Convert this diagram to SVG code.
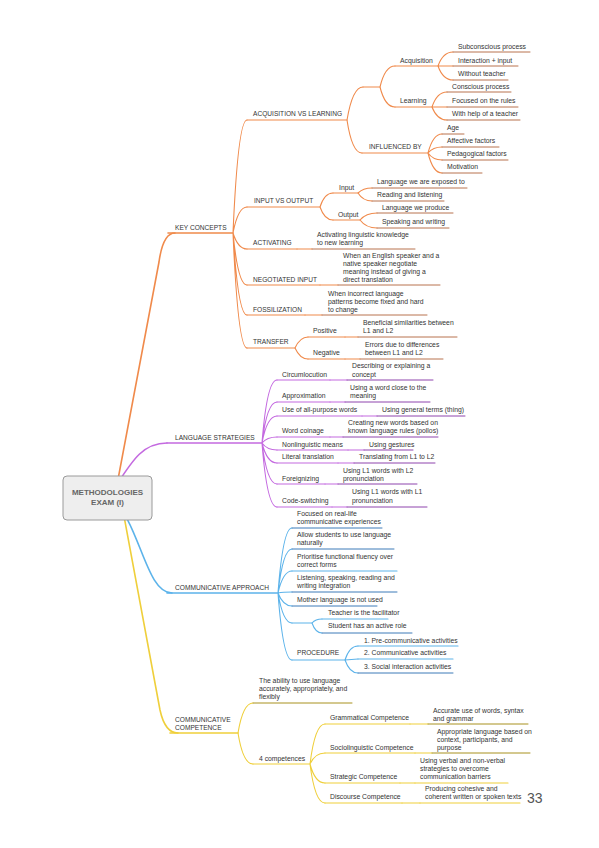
<svg xmlns="http://www.w3.org/2000/svg" width="599" height="848" viewBox="0 0 599 848">
<style>
text{font-family:"Liberation Sans",Arial,sans-serif;font-size:6.8px;fill:#333}
.u{font-size:6.6px}
path,line{fill:none;stroke-linecap:round}
.o{stroke:#f08a4b;stroke-width:1.1}
.od{stroke:#b8734e;stroke-width:1}
.p{stroke:#c46ae0;stroke-width:1.1}
.pd{stroke:#8e44ad;stroke-width:1}
.b{stroke:#5cb3ea;stroke-width:1.1}
.bd{stroke:#3d7bb8;stroke-width:1}
.y{stroke:#efcf3b;stroke-width:1.1}
.yd{stroke:#a8911e;stroke-width:1}
.t{stroke-width:1.6}
.root{fill:#eeeeee;stroke:#9a9a9a;stroke-width:1}
.rt{font-size:8px;font-weight:bold;fill:#666;text-anchor:middle}
.pg{font-size:14px;fill:#555}
</style>
<g id="connectors">
<path class="o t" d="M116,490 L159,262 Q163,233 175,233"/>
<path class="p t" d="M110,495 C130,465 140,443 167,443"/>
<path class="b t" d="M110,497 C140,520 145,593 172,593"/>
<path class="y t" d="M121,500 L160,710 Q165,733 178,733"/>
<path class="o" d="M233,233 Q238,120 247,120 M233,233 Q238,207 247,207 M233,233 Q238,249 247,249 M233,233 Q238,285 247,285 M233,233 Q238,315 247,315 M233,233 Q238,348 247,348"/>
<path class="o" d="M347,120 Q352.6,87 363,87 M347,120 Q352,153 362,153 M380,87 Q385,66 395,66 M380,87 Q385,107 395,107"/>
<path class="o" d="M438,66 Q443,52 453,52 M438,66 L453,66 M438,66 Q443,80 453,80 M432,107 Q437,92 447,92 M432,107 L447,107 M432,107 Q437,120 447,120"/>
<path class="o" d="M428,153 Q433,134 442,134 M428,153 Q433,147 442,147 M428,153 Q433,160 442,160 M428,153 Q433,173 442,173"/>
<path class="o" d="M320,207 Q324.5,193 333,193 M320,207 Q324.5,220 333,220 M358,193 Q363,188 372,188 M358,193 Q363,201 372,201 M360,220 Q366,213 377,213 M360,220 Q366,228 377,228"/>
<path class="o" d="M297,249 L312,249 M320,285 L338,285 M305,315 L322,315 M295,348 Q300,337 308,337 M295,348 Q300,359 308,359 M345,337 L358,337 M345,359 L360,359"/>
<path class="p" d="M262,443 Q267,380 277,380 M262,443 Q267,402 277,402 M262,443 Q267,416 277,416 M262,443 Q267,437 277,437 M262,443 Q267,450 277,450 M262,443 Q267,463 277,463 M262,443 Q267,484 277,484 M262,443 Q267,507 277,507"/>
<path class="p" d="M330,380 L347,380 M330,402 L345,402 M362,416 L377,416 M330,437 L343,437 M348,450 L364,450 M338,463 L354,463 M325,484 L338,484 M332,507 L347,507"/>
<path class="b" d="M278,593 Q283,528 292,528 M278,593 Q283,549 292,549 M278,593 Q283,571 292,571 M278,593 Q283,592 292,592 M278,593 Q283,606 292,606 M278,593 Q283,623 292,623 M278,593 Q283,660 292,660"/>
<path class="b" d="M312,623 Q315.5,619 322,619 M312,623 Q315.5,633 322,633 M345,660 Q349.5,646 358,646 M345,660 L358,659 M345,660 Q349.5,673 358,673"/>
<path class="y" d="M238,733 Q243,703 253,703 M238,733 Q243,764 253,764 M310,764 Q315,724 325,724 M310,764 Q315,753 325,753 M310,764 Q315,783 325,783 M310,764 Q315,803 325,803"/>
<path class="y" d="M410,724 L428,724 M415,753 L432,753 M400,783 L415,783 M402,803 L420,803"/>
</g>
<g id="root">
<rect class="root" x="63" y="476" width="89" height="44" rx="4"/>
<text class="rt" x="107.5" y="495">METHODOLOGIES</text>
<text class="rt" x="107.5" y="505">EXAM (I)</text>
</g>
<g id="key-concepts"><line class="o t" x1="168" y1="233" x2="233" y2="233"/><text class="u" x="175" y="230">KEY CONCEPTS</text></g>
<g id="acq-vs-learning"><line class="o" x1="247" y1="120" x2="347" y2="120"/><text class="u" x="253" y="116">ACQUISITION VS LEARNING</text></g>
<g id="acq-empty"><line class="o" x1="363" y1="87" x2="380" y2="87" stroke-width="1.8"/></g>
<g id="acquisition"><line class="o" x1="395" y1="66" x2="438" y2="66"/><text x="400" y="63">Acquisition</text></g>
<g id="acq-1"><line class="od" x1="453" y1="52" x2="530" y2="52"/><text x="458" y="49">Subconscious process</text></g>
<g id="acq-2"><line class="od" x1="453" y1="66" x2="518" y2="66"/><text x="458" y="63">Interaction + input</text></g>
<g id="acq-3"><line class="od" x1="453" y1="80" x2="508" y2="80"/><text x="458" y="76">Without teacher</text></g>
<g id="learning"><line class="o" x1="395" y1="107" x2="432" y2="107"/><text x="400" y="103">Learning</text></g>
<g id="learn-1"><line class="od" x1="447" y1="92" x2="511" y2="92"/><text x="452" y="89">Conscious process</text></g>
<g id="learn-2"><line class="od" x1="447" y1="107" x2="518" y2="107"/><text x="452" y="103">Focused on the rules</text></g>
<g id="learn-3"><line class="od" x1="447" y1="120" x2="520" y2="120"/><text x="452" y="116">With help of a teacher</text></g>
<g id="influenced"><line class="o" x1="362" y1="153" x2="428" y2="153"/><text class="u" x="369" y="149">INFLUENCED BY</text></g>
<g id="inf-1"><line class="od" x1="442" y1="134" x2="464" y2="134"/><text x="447" y="130">Age</text></g>
<g id="inf-2"><line class="od" x1="442" y1="147" x2="499" y2="147"/><text x="447" y="143">Affective factors</text></g>
<g id="inf-3"><line class="od" x1="442" y1="160" x2="508" y2="160"/><text x="447" y="156">Pedagogical factors</text></g>
<g id="inf-4"><line class="od" x1="442" y1="173" x2="482" y2="173"/><text x="447" y="169">Motivation</text></g>
<g id="input-output"><line class="o" x1="247" y1="207" x2="320" y2="207"/><text class="u" x="254" y="203">INPUT VS OUTPUT</text></g>
<g id="input"><line class="o" x1="333" y1="193" x2="358" y2="193"/><text x="339" y="190">Input</text></g>
<g id="in-1"><line class="od" x1="372" y1="188" x2="467" y2="188"/><text x="377" y="184">Language we are exposed to</text></g>
<g id="in-2"><line class="od" x1="372" y1="201" x2="444" y2="201"/><text x="377" y="197">Reading and listening</text></g>
<g id="output"><line class="o" x1="333" y1="220" x2="360" y2="220"/><text x="338" y="217">Output</text></g>
<g id="out-1"><line class="od" x1="377" y1="213" x2="453" y2="213"/><text x="382" y="210">Language we produce</text></g>
<g id="out-2"><line class="od" x1="377" y1="228" x2="449" y2="228"/><text x="382" y="224">Speaking and writing</text></g>
<g id="activating"><line class="o" x1="247" y1="249" x2="297" y2="249"/><text class="u" x="253" y="245">ACTIVATING</text></g>
<g id="activating-def"><line class="od" x1="312" y1="249" x2="415" y2="249"/><text x="317" y="237">Activating linguistic knowledge</text><text x="317" y="245">to new learning</text></g>
<g id="negotiated"><line class="o" x1="247" y1="285" x2="320" y2="285"/><text class="u" x="253" y="282">NEGOTIATED INPUT</text></g>
<g id="negotiated-def"><line class="od" x1="338" y1="285" x2="440" y2="285"/><text x="343" y="258">When an English speaker and a</text><text x="343" y="266">native speaker negotiate</text><text x="343" y="274">meaning instead of giving a</text><text x="343" y="282">direct translation</text></g>
<g id="fossilization"><line class="o" x1="247" y1="315" x2="305" y2="315"/><text class="u" x="253" y="312">FOSSILIZATION</text></g>
<g id="fossilization-def"><line class="od" x1="322" y1="315" x2="427" y2="315"/><text x="328" y="296">When incorrect language</text><text x="328" y="304">patterns become fixed and hard</text><text x="328" y="312">to change</text></g>
<g id="transfer"><line class="o" x1="247" y1="348" x2="295" y2="348"/><text class="u" x="253" y="344">TRANSFER</text></g>
<g id="positive"><line class="o" x1="308" y1="337" x2="345" y2="337"/><text x="313" y="333">Positive</text></g>
<g id="positive-def"><line class="od" x1="358" y1="337" x2="457" y2="337"/><text x="363" y="325">Beneficial similarities between</text><text x="363" y="333">L1 and L2</text></g>
<g id="negative"><line class="o" x1="308" y1="359" x2="345" y2="359"/><text x="313" y="355">Negative</text></g>
<g id="negative-def"><line class="od" x1="360" y1="359" x2="443" y2="359"/><text x="365" y="347">Errors due to differences</text><text x="365" y="355">between L1 and L2</text></g>
<g id="language-strategies"><line class="p t" x1="167" y1="443" x2="262" y2="443"/><text class="u" x="175" y="440">LANGUAGE STRATEGIES</text></g>
<g id="circumlocution"><line class="p" x1="277" y1="380" x2="330" y2="380"/><text x="282" y="377">Circumlocution</text></g>
<g id="circ-def"><line class="pd" x1="347" y1="380" x2="433" y2="380"/><text x="352" y="368">Describing or explaining a</text><text x="352" y="377">concept</text></g>
<g id="approximation"><line class="p" x1="277" y1="402" x2="330" y2="402"/><text x="282" y="398">Approximation</text></g>
<g id="approx-def"><line class="pd" x1="345" y1="402" x2="430" y2="402"/><text x="350" y="390">Using a word close to the</text><text x="350" y="398">meaning</text></g>
<g id="all-purpose"><line class="p" x1="277" y1="416" x2="362" y2="416"/><text x="282" y="412">Use of all-purpose words</text></g>
<g id="all-purpose-def"><line class="pd" x1="377" y1="416" x2="465" y2="416"/><text x="382" y="412">Using general terms (thing)</text></g>
<g id="coinage"><line class="p" x1="277" y1="437" x2="330" y2="437"/><text x="282" y="433">Word coinage</text></g>
<g id="coinage-def"><line class="pd" x1="343" y1="437" x2="438" y2="437"/><text x="348" y="425">Creating new words based on</text><text x="348" y="433">known language rules (pollos)</text></g>
<g id="nonlinguistic"><line class="p" x1="277" y1="450" x2="348" y2="450"/><text x="282" y="447">Nonlinguistic means</text></g>
<g id="nonlinguistic-def"><line class="pd" x1="364" y1="450" x2="413" y2="450"/><text x="369" y="447">Using gestures</text></g>
<g id="literal"><line class="p" x1="277" y1="463" x2="338" y2="463"/><text x="282" y="459">Literal translation</text></g>
<g id="literal-def"><line class="pd" x1="354" y1="463" x2="435" y2="463"/><text x="359" y="459">Translating from L1 to L2</text></g>
<g id="foreignizing"><line class="p" x1="277" y1="484" x2="325" y2="484"/><text x="282" y="481">Foreignizing</text></g>
<g id="foreignizing-def"><line class="pd" x1="338" y1="484" x2="417" y2="484"/><text x="343" y="473">Using L1 words with L2</text><text x="343" y="481">pronunciation</text></g>
<g id="code-switching"><line class="p" x1="277" y1="507" x2="332" y2="507"/><text x="282" y="503">Code-switching</text></g>
<g id="code-switching-def"><line class="pd" x1="347" y1="507" x2="427" y2="507"/><text x="352" y="494">Using L1 words with L1</text><text x="352" y="503">pronunciation</text></g>
<g id="communicative-approach"><line class="b t" x1="167" y1="593" x2="278" y2="593"/><text class="u" x="175" y="590">COMMUNICATIVE APPROACH</text></g>
<g id="ca-1"><line class="bd" x1="292" y1="528" x2="382" y2="528"/><text x="297" y="516">Focused on real-life</text><text x="297" y="524">communicative experiences</text></g>
<g id="ca-2"><line class="bd" x1="292" y1="549" x2="394" y2="549"/><text x="297" y="537">Allow students to use language</text><text x="297" y="545">naturally</text></g>
<g id="ca-3"><line class="b" x1="292" y1="571" x2="397" y2="571"/><text x="297" y="559">Prioritise functional fluency over</text><text x="297" y="567">correct forms</text></g>
<g id="ca-4"><line class="bd" x1="292" y1="592" x2="397" y2="592"/><text x="297" y="580">Listening, speaking, reading and</text><text x="297" y="588">writing integration</text></g>
<g id="ca-5"><line class="bd" x1="292" y1="606" x2="377" y2="606"/><text x="297" y="602">Mother language is not used</text></g>
<g id="ca-empty"><line class="b" x1="292" y1="623" x2="312" y2="623"/></g>
<g id="ca-teacher"><line class="b" x1="322" y1="619" x2="388" y2="619"/><text x="328" y="615">Teacher is the facilitator</text></g>
<g id="ca-student"><line class="bd" x1="322" y1="633" x2="412" y2="633"/><text x="328" y="628">Student has an active role</text></g>
<g id="procedure"><line class="b" x1="292" y1="660" x2="345" y2="660"/><text class="u" x="297" y="655">PROCEDURE</text></g>
<g id="proc-1"><line class="b" x1="358" y1="646" x2="458" y2="646"/><text x="364" y="643">1. Pre-communicative activities</text></g>
<g id="proc-2"><line class="b" x1="358" y1="659" x2="453" y2="659"/><text x="364" y="655">2. Communicative activities</text></g>
<g id="proc-3"><line class="bd" x1="358" y1="673" x2="453" y2="673"/><text x="364" y="669">3. Social interaction activities</text></g>
<g id="communicative-competence"><line class="y t" x1="170" y1="733" x2="238" y2="733"/><text class="u" x="175" y="722">COMMUNICATIVE</text><text class="u" x="175" y="730">COMPETENCE</text></g>
<g id="cc-def"><line class="yd" x1="253" y1="703" x2="352" y2="703"/><text x="259" y="683">The ability to use language</text><text x="259" y="691">accurately, appropriately, and</text><text x="259" y="699">flexibly</text></g>
<g id="four-competences"><line class="y" x1="253" y1="764" x2="310" y2="764"/><text x="259" y="761">4 competences</text></g>
<g id="grammatical"><line class="y" x1="325" y1="724" x2="410" y2="724"/><text x="330" y="720">Grammatical Competence</text></g>
<g id="grammatical-def"><line class="yd" x1="428" y1="724" x2="528" y2="724"/><text x="433" y="713">Accurate use of words, syntax</text><text x="433" y="721">and grammar</text></g>
<g id="sociolinguistic"><line class="y" x1="325" y1="753" x2="415" y2="753"/><text x="330" y="750">Sociolinguistic Competence</text></g>
<g id="sociolinguistic-def"><line class="yd" x1="432" y1="753" x2="530" y2="753"/><text x="437" y="734">Appropriate language based on</text><text x="437" y="742">context, participants, and</text><text x="437" y="750">purpose</text></g>
<g id="strategic"><line class="y" x1="325" y1="783" x2="400" y2="783"/><text x="330" y="779">Strategic Competence</text></g>
<g id="strategic-def"><line class="y" x1="415" y1="783" x2="508" y2="783"/><text x="420" y="763">Using verbal and non-verbal</text><text x="420" y="771">strategies to overcome</text><text x="420" y="779">communication barriers</text></g>
<g id="discourse"><line class="y" x1="325" y1="803" x2="402" y2="803"/><text x="330" y="799">Discourse Competence</text></g>
<g id="discourse-def"><line class="y" x1="420" y1="803" x2="520" y2="803"/><text x="425" y="791">Producing cohesive and</text><text x="425" y="799">coherent written or spoken texts</text></g>
<text class="pg" x="527" y="803">33</text>
</svg>
